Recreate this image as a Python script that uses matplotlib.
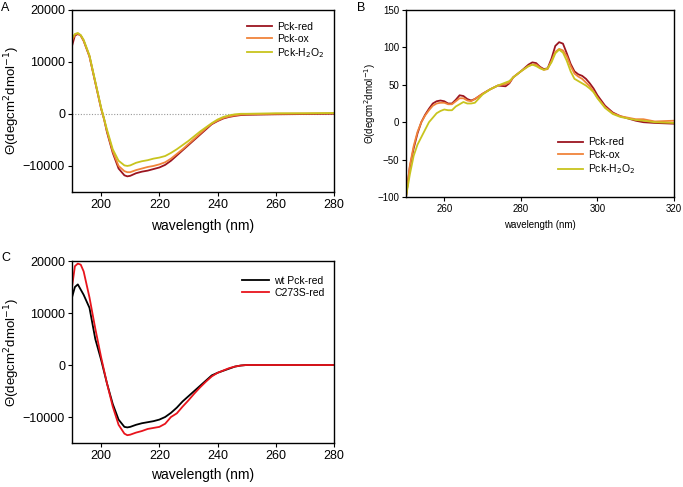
import matplotlib
matplotlib.use("Agg")
import matplotlib.pyplot as plt

plt.rcParams['font.family'] = ['Liberation Sans', 'DejaVu Sans']

# ---------- Panel A data ----------
wl_a = [190, 191, 192, 193, 194, 196, 198, 200, 201, 202, 204, 206, 208, 209, 210, 212, 214, 216,
        218, 220, 222, 224, 226, 228, 230, 232, 234, 236, 238, 240, 242, 244, 246, 248, 250, 255,
        260, 270, 280]
a_red = [13000, 15000, 15300, 15000, 14000, 11000, 6000, 1000, -1000, -3500, -7500, -10500, -11800,
         -12000, -11900, -11400, -11100, -10900, -10600, -10300, -9800, -9000, -8000, -7000, -6000,
         -5000, -4000, -3000, -2000, -1400, -900, -600, -400, -250, -200, -150, -100, -50, 0]
a_ox = [14000, 15200, 15400, 15000, 14000, 11000, 6000, 1000, -1000, -3300, -7200, -10000, -11000,
        -11200, -11200, -10800, -10500, -10200, -10000, -9700, -9300, -8600, -7700, -6800, -5800,
        -4800, -3800, -2800, -1900, -1300, -800, -500, -300, -150, -100, -50, 0, 50, 100]
a_h2o2 = [14500, 15300, 15500, 15100, 14200, 11200, 6200, 1200, -900, -3000, -6800, -9000, -9900,
          -10000, -9900, -9400, -9100, -8900, -8600, -8400, -8100, -7500, -6800, -6000, -5200,
          -4300, -3400, -2600, -1800, -1100, -600, -300, -100, 0, 0, 50, 100, 100, 150]

# ---------- Panel B data ----------
wl_b = [250, 251, 252, 253, 254, 255, 256, 257, 258, 259, 260, 261, 262, 263, 264, 265, 266, 267,
        268, 270, 272, 274, 276, 277, 278, 279, 280, 282, 283, 284, 285, 286, 287, 288, 289, 290,
        291, 292, 293, 294, 295, 296, 297, 298, 299, 300, 302, 304, 306, 308, 310, 312, 315, 320]
b_red = [-100, -60, -35, -15, 0, 10, 18, 25, 28, 29, 28, 25, 25, 30, 36, 35, 31, 29,
         31, 38, 44, 49, 48, 52, 60, 64, 68, 77, 80, 79, 74, 71, 72, 85, 102, 107,
         105, 92, 78, 68, 64, 62, 58, 52, 45, 36, 22, 13, 8, 5, 2, 0, -1, -2]
b_ox = [-100, -58, -32, -13, 0, 9, 16, 22, 25, 26, 26, 24, 24, 28, 32, 32, 29, 28,
        31, 38, 44, 49, 51, 53, 60, 64, 68, 75, 77, 77, 73, 70, 71, 82, 94, 98,
        96, 88, 75, 65, 61, 58, 53, 48, 41, 33, 20, 12, 8, 6, 4, 4, 1, 2]
b_h2o2 = [-100, -70, -45, -30, -20, -10, 0, 6, 12, 15, 17, 16, 16, 21, 24, 27, 25, 25,
          26, 37, 44, 49, 53, 55, 60, 64, 68, 75, 77, 75, 72, 70, 72, 80, 92, 97,
          93, 82, 68, 58, 55, 52, 49, 45, 40, 32, 19, 11, 7, 5, 3, 2, 0, -1]

# ---------- Panel C data ----------
wl_c = [190, 191, 192, 193, 194, 196, 198, 200, 202, 204, 206, 208, 209, 210, 212, 214, 216, 218,
        220, 222, 224, 226, 228, 230, 232, 234, 236, 238, 240, 244, 246, 248, 250, 260, 270, 280]
c_wt = [13000, 15000, 15500, 14500, 13500, 11000, 5000, 1000, -3500, -7500, -10500, -11900, -12000,
        -11900, -11500, -11200, -11000, -10800, -10500, -10000, -9200, -8200, -7000, -6000, -5000,
        -4000, -3000, -2000, -1500, -700, -300, -100, 0, 0, 0, 0]
c_mut = [15000, 19000, 19500, 19300, 18000, 13000, 7000, 1500, -3500, -8000, -11500, -13200, -13500,
         -13400, -13000, -12700, -12300, -12100, -11900, -11300, -10000, -9300, -8000, -6800, -5500,
         -4300, -3200, -2200, -1500, -600, -300, -100, 0, 0, 0, 0]

ylabel_txt = 'Θ(degcm$^{2}$dmol$^{-1}$)'

W, H = 683, 487
fig = plt.figure(figsize=(W / 100, H / 100), dpi=100)


def axes_px(l, t, r, b):
    return fig.add_axes([l / W, 1 - b / H, (r - l) / W, (b - t) / H])


def style(ax, fs):
    for s in ax.spines.values():
        s.set_linewidth(1.0)
        s.set_color('black')
    ax.tick_params(direction='out', length=3, width=0.8, labelsize=fs, pad=2)


c_red = '#9b1520'
c_ox = '#f0843a'
c_yel = '#c8c41e'

# Panel A
axA = axes_px(72, 9.5, 334, 192)
axA.axhline(0, color='#999999', lw=0.8, ls=(0, (1, 1.5)))
axA.plot(wl_a, a_red, color=c_red, lw=1.3, label='Pck-red')
axA.plot(wl_a, a_ox, color=c_ox, lw=1.3, label='Pck-ox')
axA.plot(wl_a, a_h2o2, color=c_yel, lw=1.3, label='Pck-H$_2$O$_2$')
axA.set_xlim(190, 280)
axA.set_ylim(-15000, 20000)
axA.set_xticks([200, 220, 240, 260, 280])
axA.set_yticks([-10000, 0, 10000, 20000])
style(axA, 9)
axA.set_xlabel('wavelength (nm)', fontsize=10, labelpad=6)
axA.set_ylabel(ylabel_txt, fontsize=9.5)
axA.yaxis.set_label_coords(-0.19, 0.5)
axA.legend(loc='upper right', frameon=False, fontsize=7.5, handlelength=2.4,
           handletextpad=0.5, labelspacing=0.2, bbox_to_anchor=(1.0, 0.985))

# Panel B
axB = axes_px(406, 10, 674, 197)
axB.plot(wl_b, b_red, color=c_red, lw=1.3, label='Pck-red')
axB.plot(wl_b, b_ox, color=c_ox, lw=1.3, label='Pck-ox')
axB.plot(wl_b, b_h2o2, color=c_yel, lw=1.3, label='Pck-H$_2$O$_2$')
axB.set_xlim(250, 320)
axB.set_ylim(-100, 150)
axB.set_xticks([260, 280, 300, 320])
axB.set_yticks([-100, -50, 0, 50, 100, 150])
style(axB, 7)
axB.set_xlabel('wavelength (nm)', fontsize=7, labelpad=4)
axB.set_ylabel(ylabel_txt, fontsize=7)
axB.yaxis.set_label_coords(-0.105, 0.5)
axB.legend(loc='lower right', frameon=False, fontsize=7.5, handlelength=2.4,
           handletextpad=0.5, labelspacing=0.25, bbox_to_anchor=(0.89, 0.06))

# Panel C
axC = axes_px(72, 261, 334, 443)
axC.plot(wl_c, c_wt, color='black', lw=1.3, label='wt Pck-red')
axC.plot(wl_c, c_mut, color='#e8141c', lw=1.3, label='C273S-red')
axC.set_xlim(190, 280)
axC.set_ylim(-15000, 20000)
axC.set_xticks([200, 220, 240, 260, 280])
axC.set_yticks([-10000, 0, 10000, 20000])
style(axC, 9)
axC.set_xlabel('wavelength (nm)', fontsize=10, labelpad=4)
axC.set_ylabel(ylabel_txt, fontsize=9.5)
axC.yaxis.set_label_coords(-0.19, 0.5)
axC.legend(loc='upper right', frameon=False, fontsize=7.5, handlelength=2.6,
           handletextpad=0.5, labelspacing=0.2, bbox_to_anchor=(1.0, 0.97))

# Panel letters
fig.text(1 / W, 1 - 8 / H, 'A', fontsize=9, va='center', ha='left')
fig.text(357 / W, 1 - 8 / H, 'B', fontsize=9, va='center', ha='left')
fig.text(1 / W, 1 - 258 / H, 'C', fontsize=9, va='center', ha='left')

fig.savefig('out.png', dpi=100)
